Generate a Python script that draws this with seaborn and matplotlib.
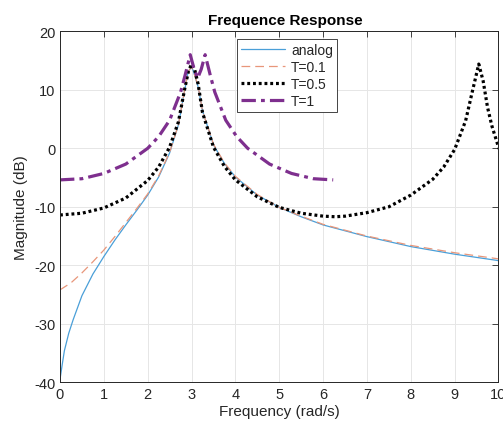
import matplotlib
matplotlib.use("Agg")
import matplotlib.pyplot as plt
import seaborn as sns
import pandas as pd

# ---- data ----
w_analog = [0, 0.05, 0.1, 0.2, 0.3, 0.5, 0.75, 1.0, 1.25, 1.5, 1.75, 2.0, 2.25, 2.5, 2.7, 2.85, 2.92,
            3.0, 3.05, 3.15, 3.25, 3.5, 3.75, 4.0, 4.5, 5.0, 5.5, 6.0, 7.0, 8.0, 9.0, 10.0]
mag_analog = [-39.5, -37.0, -34.6, -31.6, -29.3, -25.2, -21.5, -18.5, -15.7, -13.1, -10.6, -8.0, -4.9,
              -0.8, 4.0, 10.2, 13.0, 14.0, 13.0, 10.5, 6.4, 0.6, -2.6, -4.9, -8.0, -10.1, -11.7,
              -13.1, -15.1, -16.8, -18.1, -19.2]

w_t01 = [0, 0.25, 0.5, 0.75, 1.0, 1.25, 1.5, 1.75, 2.0, 2.25, 2.5, 2.7, 2.85, 2.92, 3.0, 3.05,
         3.15, 3.25, 3.5, 3.75, 4.0, 4.5, 5.0, 5.5, 6.0, 7.0, 8.0, 9.0, 10.0]
mag_t01 = [-24.2, -23.0, -21.3, -19.4, -17.4, -15.1, -12.7, -10.3, -7.8, -4.7, -0.7, 4.0, 10.3,
           13.0, 14.0, 13.0, 10.6, 6.4, 0.7, -2.5, -4.8, -7.9, -10.1, -11.6, -13.0, -15.0, -16.6,
           -17.85, -18.9]

w_t05 = [0, 0.5, 1.0, 1.5, 2.0, 2.25, 2.5, 2.7, 2.85, 2.93, 3.0, 3.07, 3.15, 3.25, 3.5, 3.75, 4.0,
         4.5, 5.0, 5.5, 6.0, 6.28, 6.5, 7.0, 7.5, 8.0, 8.5, 8.75, 9.0, 9.25, 9.4, 9.55, 9.65, 9.75,
         9.85, 10.0, 10.2]
mag_t05 = [-11.4, -11.1, -10.2, -8.5, -5.5, -3.2, 0.2, 4.5, 10.4, 13.2, 14.4, 13.5, 11.0, 6.1, 0.2,
           -3.1, -5.4, -8.3, -10.1, -11.1, -11.6, -11.7, -11.6, -11.0, -10.0, -8.0, -5.3, -3.2,
           -0.2, 4.7, 9.6, 14.4, 11.5, 7.0, 3.8, 0.2, -3.0]

w_t1 = [0, 0.5, 1.0, 1.5, 2.0, 2.25, 2.5, 2.75, 2.85, 2.97, 3.06, 3.14, 3.22, 3.31, 3.43, 3.53,
        3.78, 4.03, 4.28, 4.78, 5.28, 5.78, 6.23]
mag_t1 = [-5.4, -5.2, -4.3, -2.7, 0.0, 2.0, 4.8, 9.6, 12.4, 16.0, 13.5, 12.0, 13.5, 16.0, 12.4,
          9.6, 4.8, 2.0, 0.0, -2.7, -4.3, -5.2, -5.4]

labels = ["analog", "T=0.1", "T=0.5", "T=1"]
x_ticks = list(range(0, 11))
y_ticks = [-40, -30, -20, -10, 0, 10, 20]

sns.set_style("white")
plt.rcParams["font.family"] = ["Liberation Sans", "DejaVu Sans"]
plt.rcParams["axes.unicode_minus"] = False

fig = plt.figure(figsize=(5.03, 4.27), dpi=100)
ax = fig.add_axes([60 / 503, 43.7 / 427, 438.5 / 503, 351 / 427])

series = [
    (w_analog, mag_analog, dict(color="#4a9fd8", linewidth=0.9, linestyle="-")),
    (w_t01, mag_t01, dict(color="#e8967a", linewidth=0.9, dashes=(7, 4))),
    (w_t05, mag_t05, dict(color="black", linewidth=2.3, dashes=(0.9, 0.9))),
    (w_t1, mag_t1, dict(color="#7E2F8E", linewidth=2.3, dashes=(4.5, 1.6, 1.2, 1.6))),
]
for (w, m, st), lab in zip(series, labels):
    df = pd.DataFrame({"w": w, "m": m})
    sns.lineplot(data=df, x="w", y="m", ax=ax, label=lab, sort=False, estimator=None, **st)

ax.set_xlim(0, 10)
ax.set_ylim(-40, 20)
ax.set_xticks(x_ticks)
ax.set_yticks(y_ticks)
ax.grid(True, color="#e6e6e6", linewidth=0.7)
ax.set_axisbelow(True)
for s in ax.spines.values():
    s.set_color("#262626")
    s.set_linewidth(0.7)
ax.tick_params(direction="in", length=4, width=0.6, colors="#262626", labelsize=10.5,
               top=True, right=True, labelcolor="#262626")
ax.set_xlabel("Frequency (rad/s)", fontsize=11, color="#262626", labelpad=2)
ax.set_ylabel("Magnitude (dB)", fontsize=11, color="#262626", labelpad=4)
ax.set_title("Frequence Response", fontsize=11, fontweight="bold", color="#000000", pad=5,
             x=0.513)

leg = ax.legend(loc="upper left", bbox_to_anchor=(0.403, 0.978), fontsize=10, frameon=True,
                fancybox=False, framealpha=1, edgecolor="#262626", handlelength=3.2,
                labelspacing=0.2, borderpad=0.3, handletextpad=0.4, borderaxespad=0)
leg.get_frame().set_linewidth(0.6)

fig.savefig("out.png", dpi=100)
